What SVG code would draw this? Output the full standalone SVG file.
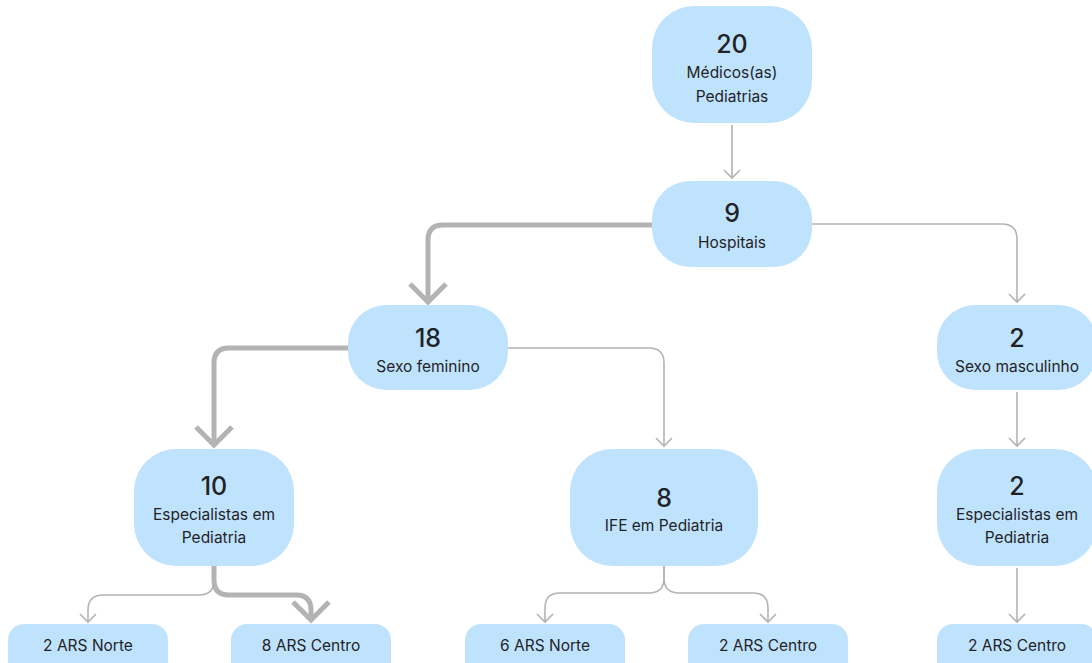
<svg xmlns="http://www.w3.org/2000/svg" width="1092" height="663" viewBox="0 0 1092 663">
<style>
.box{fill:#bfe3fc}
.num{font-family:Inter,"Liberation Sans",sans-serif;font-size:25px;font-weight:500;fill:#1f2328;text-anchor:middle}
.lbl{font-family:Inter,"Liberation Sans",sans-serif;font-size:15.5px;fill:#1f2328;text-anchor:middle}
.thin{fill:none;stroke:#b3b3b3;stroke-width:1.6;marker-end:url(#aThin)}
.thick{fill:none;stroke:#b3b3b3;stroke-width:5;marker-end:url(#aThick)}
</style>
<defs>
<marker id="aThin" markerUnits="userSpaceOnUse" viewBox="-12 -12 24 24" markerWidth="24" markerHeight="24" refX="0" refY="0" orient="auto" overflow="visible">
<path d="M-8,-8 L0,0 L-8,8" fill="none" stroke="#b3b3b3" stroke-width="1.6"/>
</marker>
<marker id="aThick" markerUnits="userSpaceOnUse" viewBox="-24 -24 48 48" markerWidth="48" markerHeight="48" refX="0" refY="0" orient="auto" overflow="visible">
<path d="M-18,-18 L0,0 L-18,18" fill="none" stroke="#b3b3b3" stroke-width="5" stroke-linejoin="miter"/>
</marker>
</defs>
<rect width="1092" height="663" fill="#ffffff"/>
<g id="connectors">
<path class="thin" d="M732,125 V178"/>
<path class="thick" d="M652,225 H443 Q428,225 428,240 V302"/>
<path class="thin" d="M812,224 H1002 Q1017,224 1017,239 V302"/>
<path class="thick" d="M348,348 H229 Q214,348 214,363 V445"/>
<path class="thin" d="M508,348 H649 Q664,348 664,363 V446"/>
<path class="thin" d="M1017,392 V446"/>
<path class="thin" d="M214,566 V580 Q214,595 199,595 H103 Q88,595 88,610 V622"/>
<path class="thick" d="M214,566 V580 Q214,595 229,595 H296 Q311,595 311,610 V620"/>
<path class="thin" d="M664,566 V578 Q664,593 649,593 H560 Q545,593 545,608 V622"/>
<path class="thin" d="M664,566 V578 Q664,593 679,593 H753 Q768,593 768,608 V622"/>
<path class="thin" d="M1017,568 V622"/>
</g>
<g id="n20">
<rect class="box" x="652" y="6" width="160" height="117" rx="42"/>
<text class="num" x="732" y="53">20</text>
<text class="lbl" x="732" y="78">Médicos(as)</text>
<text class="lbl" x="732" y="102">Pediatrias</text>
</g>
<g id="n9">
<rect class="box" x="652" y="181" width="160" height="86" rx="38"/>
<text class="num" x="732" y="222">9</text>
<text class="lbl" x="732" y="248">Hospitais</text>
</g>
<g id="n18">
<rect class="box" x="348" y="305" width="160" height="85" rx="38"/>
<text class="num" x="428" y="347">18</text>
<text class="lbl" x="428" y="372">Sexo feminino</text>
</g>
<g id="nMasc">
<rect class="box" x="937" y="305" width="160" height="85" rx="38"/>
<text class="num" x="1017" y="347">2</text>
<text class="lbl" x="1017" y="372">Sexo masculinho</text>
</g>
<g id="n10">
<rect class="box" x="134" y="449" width="160" height="117" rx="42"/>
<text class="num" x="214" y="495">10</text>
<text class="lbl" x="214" y="520">Especialistas em</text>
<text class="lbl" x="214" y="543">Pediatria</text>
</g>
<g id="n8">
<rect class="box" x="570" y="449" width="188" height="117" rx="42"/>
<text class="num" x="664" y="507">8</text>
<text class="lbl" x="664" y="531">IFE em Pediatria</text>
</g>
<g id="nEsp2">
<rect class="box" x="937" y="449" width="160" height="117" rx="42"/>
<text class="num" x="1017" y="495">2</text>
<text class="lbl" x="1017" y="520">Especialistas em</text>
<text class="lbl" x="1017" y="543">Pediatria</text>
</g>
<g id="l1">
<rect class="box" x="8" y="624" width="160" height="60" rx="16"/>
<text class="lbl" x="88" y="651">2 ARS Norte</text>
</g>
<g id="l2">
<rect class="box" x="231" y="624" width="160" height="60" rx="16"/>
<text class="lbl" x="311" y="651">8 ARS Centro</text>
</g>
<g id="l3">
<rect class="box" x="465" y="624" width="160" height="60" rx="16"/>
<text class="lbl" x="545" y="651">6 ARS Norte</text>
</g>
<g id="l4">
<rect class="box" x="688" y="624" width="160" height="60" rx="16"/>
<text class="lbl" x="768" y="651">2 ARS Centro</text>
</g>
<g id="l5">
<rect class="box" x="937" y="624" width="160" height="60" rx="16"/>
<text class="lbl" x="1017" y="651">2 ARS Centro</text>
</g>
</svg>
